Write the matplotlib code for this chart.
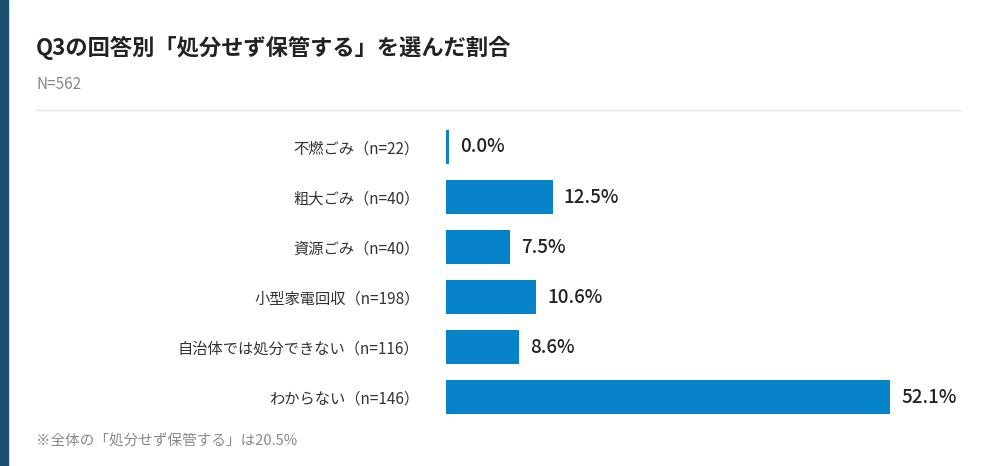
import matplotlib.pyplot as plt
from matplotlib.patches import Rectangle

plt.rcParams['font.family'] = ['Noto Sans CJK JP', 'DejaVu Sans']

categories = ['不燃ごみ（n=22）', '粗大ごみ（n=40）', '資源ごみ（n=40）', '小型家電回収（n=198）',
              '自治体では処分できない（n=116）', 'わからない（n=146）']
values = [0.0, 12.5, 7.5, 10.6, 8.6, 52.1]
value_labels = ['0.0%', '12.5%', '7.5%', '10.6%', '8.6%', '52.1%']

fig = plt.figure(figsize=(10, 4.66), dpi=100)
fig.patches.append(Rectangle((0, 0), 0.008, 1, transform=fig.transFigure, color='#1d4f73'))

fig.text(0.036, 0.897, 'Q3の回答別「処分せず保管する」を選んだ割合', fontsize=16, fontweight='bold',
         color='#222222', va='center')
fig.text(0.036, 0.818, 'N=562', fontsize=11, color='#888888', va='center')
fig.add_artist(plt.Line2D([0.036, 0.96], [0.764, 0.764], color='#e5e5e5', lw=1))
fig.text(0.036, 0.053, '※全体の「処分せず保管する」は20.5%', fontsize=10.5, color='#888888', va='center')

ax = fig.add_axes([0.446, 0.0944, 0.444, 0.6438])
ypos = range(len(values))
widths = [max(v, 0.35) for v in values]
ax.barh(ypos, widths, height=0.68, color='#0784c9')
for y, w, lab in zip(ypos, widths, value_labels):
    ax.text(w + 1.3, y, lab, va='center', ha='left', fontsize=13.5, fontweight='medium', color='#222222')
ax.set_xlim(0, 52.1)
ax.set_ylim(5.5, -0.5)
ax.set_yticks(list(ypos))
ax.set_yticklabels(categories, fontsize=11, color='#333333')
ax.tick_params(axis='y', length=0, pad=19)
ax.set_xticks([])
for s in ax.spines.values():
    s.set_visible(False)

fig.savefig('out.png', dpi=100)
